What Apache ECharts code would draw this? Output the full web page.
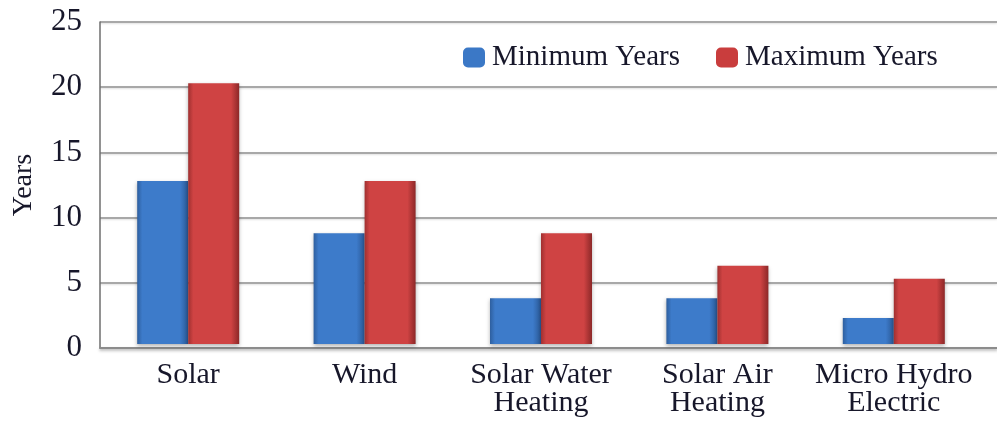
<!DOCTYPE html>
<html>
<head>
<meta charset="utf-8">
<script src="https://cdn.jsdelivr.net/npm/echarts@6/dist/echarts.min.js"></script>
<style>
  html, body { margin: 0; padding: 0; background: #fff; }
  #chart { width: 997px; height: 423px; }
</style>
</head>
<body>
<div id="chart"></div>
<script>
// Payback period ranges for renewable technologies
const categories = ['Solar', 'Wind', 'Solar Water\nHeating', 'Solar Air\nHeating', 'Micro Hydro\nElectric'];
const minimumYears = [12.5, 8.5, 3.5, 3.5, 2];
const maximumYears = [20, 12.5, 8.5, 6, 5];
const yTicks = { min: 0, max: 25, interval: 5 };

const FONT = 'Liberation Serif';
const TEXT = '#17172a';

// Bevelled bar fill: darker edges, lighter middle
function barFill(edgeL, mid, edgeR) {
  return new echarts.graphic.LinearGradient(0, 0, 1, 0, [
    { offset: 0, color: edgeL },
    { offset: 0.1, color: mid },
    { offset: 0.84, color: mid },
    { offset: 1, color: edgeR }
  ]);
}

const blueFill = barFill('#2e5f9f', '#3d7bca', '#2a5896');
const redFill = barFill('#a03030', '#cf4343', '#8c2828');

const chart = echarts.init(document.getElementById('chart'), null, { renderer: 'canvas' });

chart.setOption({
  animation: false,
  backgroundColor: '#ffffff',
  textStyle: { fontFamily: FONT, color: TEXT },
  legend: {
    left: 458,
    top: 38,
    itemWidth: 22,
    itemHeight: 20,
    itemGap: 21,
    icon: 'roundRect',
    textStyle: { fontFamily: FONT, fontSize: 29, color: TEXT, width: 203, lineHeight: 20, padding: [8, 0, 0, 2] },
    data: [
      { name: 'Minimum Years', itemStyle: { color: '#3b78c6' } },
      { name: 'Maximum Years', itemStyle: { color: '#c93d3d' } }
    ]
  },
  grid: [
    // full-width frame: gridlines and axis lines
    { left: 100, right: 0, top: 22, bottom: 75, containLabel: false, outerBoundsMode: 'none' },
    // bar area, floor raised slightly above the axis line
    { left: 100, right: 15, top: 18, bottom: 79, containLabel: false, outerBoundsMode: 'none' }
  ],
  xAxis: [
    {
      gridIndex: 0, type: 'value', min: 0, max: 1,
      axisLine: { show: true, lineStyle: { color: '#8c8c8c', width: 2, shadowColor: 'rgba(0,0,0,0.25)', shadowBlur: 3, shadowOffsetY: 2 } },
      axisTick: { show: false }, axisLabel: { show: false }, splitLine: { show: false }
    },
    {
      gridIndex: 1, type: 'category', data: categories,
      axisLine: { show: false }, axisTick: { show: false },
      axisLabel: { fontFamily: FONT, fontSize: 30, color: TEXT, margin: 17, lineHeight: 28, interval: 0 }
    }
  ],
  yAxis: [
    {
      gridIndex: 0, type: 'value', min: yTicks.min, max: yTicks.max, interval: yTicks.interval,
      name: 'Years', nameLocation: 'middle', nameGap: 62,
      nameTextStyle: { fontFamily: FONT, fontSize: 28, color: TEXT },
      axisLine: { show: true, lineStyle: { color: '#6e6e6e', width: 1.5 } },
      axisTick: { show: false },
      axisLabel: { fontFamily: FONT, fontSize: 31, color: TEXT, margin: 18 },
      splitLine: { show: true, lineStyle: { color: '#a8a8a8', width: 2, shadowColor: 'rgba(0,0,0,0.12)', shadowBlur: 2, shadowOffsetY: 1 } }
    },
    {
      gridIndex: 1, type: 'value', min: yTicks.min, max: yTicks.max, interval: yTicks.interval,
      show: false, splitLine: { show: false }
    }
  ],
  series: [
    {
      name: 'Minimum Years', type: 'bar', xAxisIndex: 1, yAxisIndex: 1,
      data: minimumYears, barWidth: 51, barGap: '0%',
      itemStyle: { color: blueFill, shadowColor: 'rgba(0,0,0,0.3)', shadowBlur: 4, shadowOffsetY: 2 }
    },
    {
      name: 'Maximum Years', type: 'bar', xAxisIndex: 1, yAxisIndex: 1,
      data: maximumYears, barWidth: 51, barGap: '0%',
      itemStyle: { color: redFill, shadowColor: 'rgba(0,0,0,0.3)', shadowBlur: 4, shadowOffsetY: 2 }
    }
  ]
});
</script>
</body>
</html>
